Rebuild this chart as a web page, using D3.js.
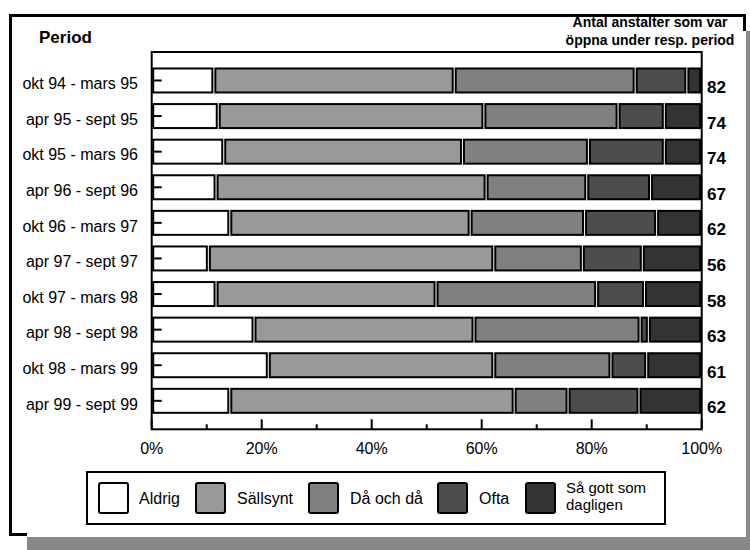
<!DOCTYPE html>
<html>
<head>
<meta charset="utf-8">
<script src="https://cdn.jsdelivr.net/npm/d3@7"></script>
<style>
  body { margin: 0; background: #fff; }
  text { font-family: "Liberation Sans", Arial, sans-serif; }
</style>
</head>
<body>
<svg id="chart" width="750" height="550"></svg>
<script>
// ---- data ----
const periods = ["okt 94 - mars 95","apr 95 - sept 95","okt 95 - mars 96","apr 96 - sept 96","okt 96 - mars 97","apr 97 - sept 97","okt 97 - mars 98","apr 98 - sept 98","okt 98 - mars 99","apr 99 - sept 99"];
const counts = [82, 74, 74, 67, 62, 56, 58, 63, 61, 62];
const seriesNames = ["Aldrig", "Sällsynt", "Då och då", "Ofta", "Så gott som dagligen"];
const aldrig   = [11.3, 12.1, 13.1, 11.7, 14.2, 10.3, 11.7, 18.6, 21.2, 14.2];
const sallsynt = [43.7, 48.3, 43.4, 49.1, 43.7, 51.9, 40.0, 40.0, 41.0, 51.7];
const daochda  = [32.9, 24.4, 22.9, 18.3, 20.8, 16.1, 29.2, 30.2, 21.3,  9.8];
const ofta     = [ 9.4,  8.4, 13.8, 11.6, 13.1, 10.9,  8.7,  1.5,  6.5, 12.9];
const dagligen = [ 2.7,  6.8,  6.8,  9.3,  8.2, 10.8, 10.4,  9.7, 10.0, 11.4];
const xTicks = [0, 10, 20, 30, 40, 50, 60, 70, 80, 90, 100];
const xLabelTicks = [0, 20, 40, 60, 80, 100];

const colors = ["#ffffff", "#999999", "#808080", "#4d4d4d", "#333333"];
const seriesArrays = [aldrig, sallsynt, daochda, ofta, dagligen];

const rows = periods.map((p, i) => {
  const o = { period: p, count: counts[i] };
  seriesNames.forEach((s, j) => o[s] = seriesArrays[j][i]);
  return o;
});

const svg = d3.select("#chart");

// ---- frame + shadow ----
svg.append("rect").attr("x", 27).attr("y", 537).attr("width", 723).attr("height", 13).attr("fill", "#888888");
svg.append("rect").attr("x", 746).attr("y", 31).attr("width", 4).attr("height", 519).attr("fill", "#888888");
svg.append("path")
  .attr("d", "M744.5,31 V15.5 H10.5 V534.5 H27")
  .attr("fill", "none").attr("stroke", "#000").attr("stroke-width", 3);

// ---- scales ----
const x = d3.scaleLinear().domain([0, 100]).range([151.7, 701.7]);
const y = d3.scaleBand().domain(periods).range([52, 429.3]).paddingInner(0.326).paddingOuter(0.463);

// plot box
svg.append("rect")
  .attr("x", x(0)).attr("y", 52).attr("width", x(100) - x(0)).attr("height", 429.3 - 52)
  .attr("fill", "none").attr("stroke", "#000").attr("stroke-width", 2);

// ---- stacked bars ----
const stack = d3.stack().keys(seriesNames)(rows);
const layers = svg.append("g").selectAll("g").data(stack).join("g")
  .attr("fill", (d, i) => colors[i]);
layers.selectAll("rect").data(d => d.filter(s => s[1] - s[0] > 0)).join("rect")
  .attr("x", d => x(d[0]) + 1.5)
  .attr("width", d => Math.max(0.5, x(d[1]) - x(d[0]) - 3))
  .attr("y", d => y(d.data.period))
  .attr("height", y.bandwidth())
  .attr("stroke", "#000").attr("stroke-width", 2);

// ---- y axis (ticks inside) ----
const yAxis = svg.append("g");
yAxis.selectAll("line").data(periods).join("line")
  .attr("x1", x(0)).attr("x2", x(0) + 10)
  .attr("y1", d => y(d) + y.bandwidth() / 2).attr("y2", d => y(d) + y.bandwidth() / 2)
  .attr("stroke", "#000").attr("stroke-width", 2);
yAxis.selectAll("text").data(periods).join("text")
  .attr("x", 138).attr("y", d => y(d) + y.bandwidth() / 2 + 8.7)
  .attr("text-anchor", "end").attr("font-size", 16).text(d => d);

// ---- x axis (ticks inside) ----
const xAxis = svg.append("g");
xAxis.selectAll("line").data(xTicks).join("line")
  .attr("x1", d => x(d)).attr("x2", d => x(d))
  .attr("y1", 429.3).attr("y2", d => 429.3 - (d % 20 === 0 ? 10 : 5))
  .attr("stroke", "#000").attr("stroke-width", 2);
xAxis.selectAll("text").data(xLabelTicks).join("text")
  .attr("x", d => x(d)).attr("y", 454)
  .attr("text-anchor", "middle").attr("font-size", 16).text(d => d + "%");

// ---- counts on the right ----
svg.append("g").selectAll("text").data(rows).join("text")
  .attr("x", 707).attr("y", d => y(d.period) + y.bandwidth() / 2 + 12.5)
  .attr("font-size", 17).attr("font-weight", "bold").text(d => d.count);

// ---- headers ----
svg.append("text").attr("x", 39).attr("y", 43).attr("font-size", 17).attr("font-weight", "bold").text("Period");
svg.append("text").attr("x", 650).attr("y", 27).attr("text-anchor", "middle").attr("font-size", 14).attr("font-weight", "bold").text("Antal anstalter som var");
svg.append("text").attr("x", 650).attr("y", 45).attr("text-anchor", "middle").attr("font-size", 14).attr("font-weight", "bold").text("öppna under resp. period");

// ---- legend ----
const legend = svg.append("g");
legend.append("rect").attr("x", 87).attr("y", 472).attr("width", 578).attr("height", 52)
  .attr("fill", "#fff").attr("stroke", "#000").attr("stroke-width", 2);
const swX = [99, 196, 309, 438, 526];
const txX = [139, 237, 350, 479, 566];
seriesNames.forEach((s, i) => {
  legend.append("rect").attr("x", swX[i]).attr("y", 483).attr("width", 29).attr("height", 30)
    .attr("rx", 2).attr("fill", colors[i]).attr("stroke", "#000").attr("stroke-width", 2);
  if (i < 4) {
    legend.append("text").attr("x", txX[i]).attr("y", 504).attr("font-size", 16).text(s);
  } else {
    legend.append("text").attr("x", txX[i]).attr("y", 493).attr("font-size", 15).text("Så gott som");
    legend.append("text").attr("x", txX[i]).attr("y", 510).attr("font-size", 15).text("dagligen");
  }
});
</script>
</body>
</html>
